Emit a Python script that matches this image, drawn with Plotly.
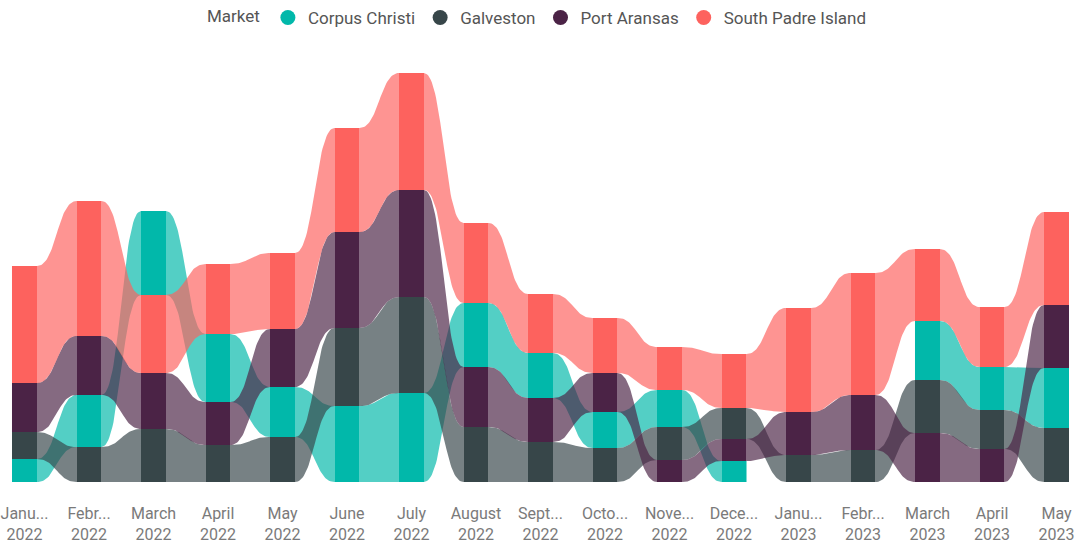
import numpy as np
import plotly.graph_objects as go

# Months shown on the category axis (truncated the way the axis renders them)
month_labels = ["Janu...", "Febr...", "March", "April", "May", "June", "July", "August",
                "Sept...", "Octo...", "Nove...", "Dece...", "Janu...", "Febr...", "March",
                "April", "May"]
year_labels = ["2022"] * 12 + ["2023"] * 5

# Monthly values per market (None = no data that month)
corpus_christi = [23, 52, 84, 68, 50, 76, 89, 64, 45, 36, 37, 21, None, None, 59, 43, 60]
galveston = [27, 35, 53, 37, 45, 78, 96, 55, 40, 34, 33, 31, 27, 32, 53, 39, 54]
port_aransas = [49, 59, 56, 43, 58, 96, 107, 60, 44, 39, 22, 22, 43, 55, 49, 33, 63]
south_padre_island = [117, 135, 78, 70, 76, 104, 117, 80, 59, 55, 43, 54, 104, 122, 72, 60, 93]

markets = ["Corpus Christi", "Galveston", "Port Aransas", "South Padre Island"]
series = [corpus_christi, galveston, port_aransas, south_padre_island]
colors = ["#01B8AA", "#374649", "#4B2346", "#FD625E"]
ribbon_alpha = 0.68

n = len(month_labels)
bar_half = 0.194  # half bar width in category units

label_font = "Roboto, sans-serif"


def rgba(hex_color, a):
    h = hex_color.lstrip("#")
    r, g, b = int(h[0:2], 16), int(h[2:4], 16), int(h[4:6], 16)
    return f"rgba({r},{g},{b},{a})"


# Ribbon-chart stacking: in each month the largest market sits on top
bottoms = [[None] * n for _ in series]
tops = [[None] * n for _ in series]
for i in range(n):
    present = [(s[i], k) for k, s in enumerate(series) if s[i] is not None]
    present.sort()
    base = 0.0
    for v, k in present:
        bottoms[k][i] = base
        tops[k][i] = base + v
        base += v


def s_curve(x0, x1, y0, y1, steps=40):
    """Cubic Bezier S-curve from (x0, y0) to (x1, y1) with horizontal tangents."""
    t = np.linspace(0, 1, steps)
    xm = (x0 + x1) / 2
    bx = (1 - t) ** 3 * x0 + 3 * (1 - t) ** 2 * t * xm + 3 * (1 - t) * t ** 2 * xm + t ** 3 * x1
    by = ((1 - t) ** 3 + 3 * (1 - t) ** 2 * t) * y0 + (3 * (1 - t) * t ** 2 + t ** 3) * y1
    return bx, by


fig = go.Figure()

# Ribbons between consecutive months
for k, name in enumerate(markets):
    for i in range(n - 1):
        if tops[k][i] is None or tops[k][i + 1] is None:
            continue
        xa, xb = i + bar_half, i + 1 - bar_half
        tx, ty = s_curve(xa, xb, tops[k][i], tops[k][i + 1])
        bx, by = s_curve(xa, xb, bottoms[k][i], bottoms[k][i + 1])
        px = np.concatenate([tx, bx[::-1]])
        py = np.concatenate([ty, by[::-1]])
        fig.add_trace(go.Scatter(
            x=px, y=py, mode="lines", fill="toself",
            fillcolor=rgba(colors[k], ribbon_alpha), line=dict(width=0),
            hoverinfo="skip", showlegend=False,
        ))

# Stacked columns
for k, name in enumerate(markets):
    xs = [i for i in range(n) if series[k][i] is not None]
    fig.add_trace(go.Bar(
        x=xs, y=[series[k][i] for i in xs], base=[bottoms[k][i] for i in xs],
        width=2 * bar_half, marker=dict(color=colors[k], line=dict(width=0)),
        name=name, showlegend=False,
    ))

# Legend entries
for k, name in enumerate(markets):
    fig.add_trace(go.Scatter(
        x=[None], y=[None], mode="markers", name=name,
        marker=dict(color=colors[k], size=15, symbol="circle"),
    ))

W, H = 1077, 550
left_px = 24.5
step_px = 64.5
fig.update_layout(
    width=W, height=H,
    margin=dict(l=0, r=0, t=40, b=68),
    paper_bgcolor="white", plot_bgcolor="white",
    barmode="overlay",
    font=dict(family=label_font, color="#666666"),
    showlegend=True,
    legend=dict(
        orientation="h", x=0.5, xanchor="center", y=1.0, yref="container", yanchor="top",
        title=dict(text="Market", font=dict(size=17, color="#555555", family=label_font)),
        font=dict(size=17, color="#555555", family=label_font),
        itemwidth=30, tracegroupgap=0,
    ),
    xaxis=dict(
        range=[-left_px / step_px, (W - left_px) / step_px],
        tickmode="array", tickvals=list(range(n)),
        ticktext=[f"{m}<br>{y}" for m, y in zip(month_labels, year_labels)],
        tickfont=dict(size=16, color="#7a7a7a", family=label_font),
        ticklabelstandoff=20, ticklabeloverflow="allow",
        showgrid=False, zeroline=False, showline=False, ticks="",
        fixedrange=True,
    ),
    yaxis=dict(range=[0, 442], visible=False, fixedrange=True),
)

fig.write_html("out.html")
